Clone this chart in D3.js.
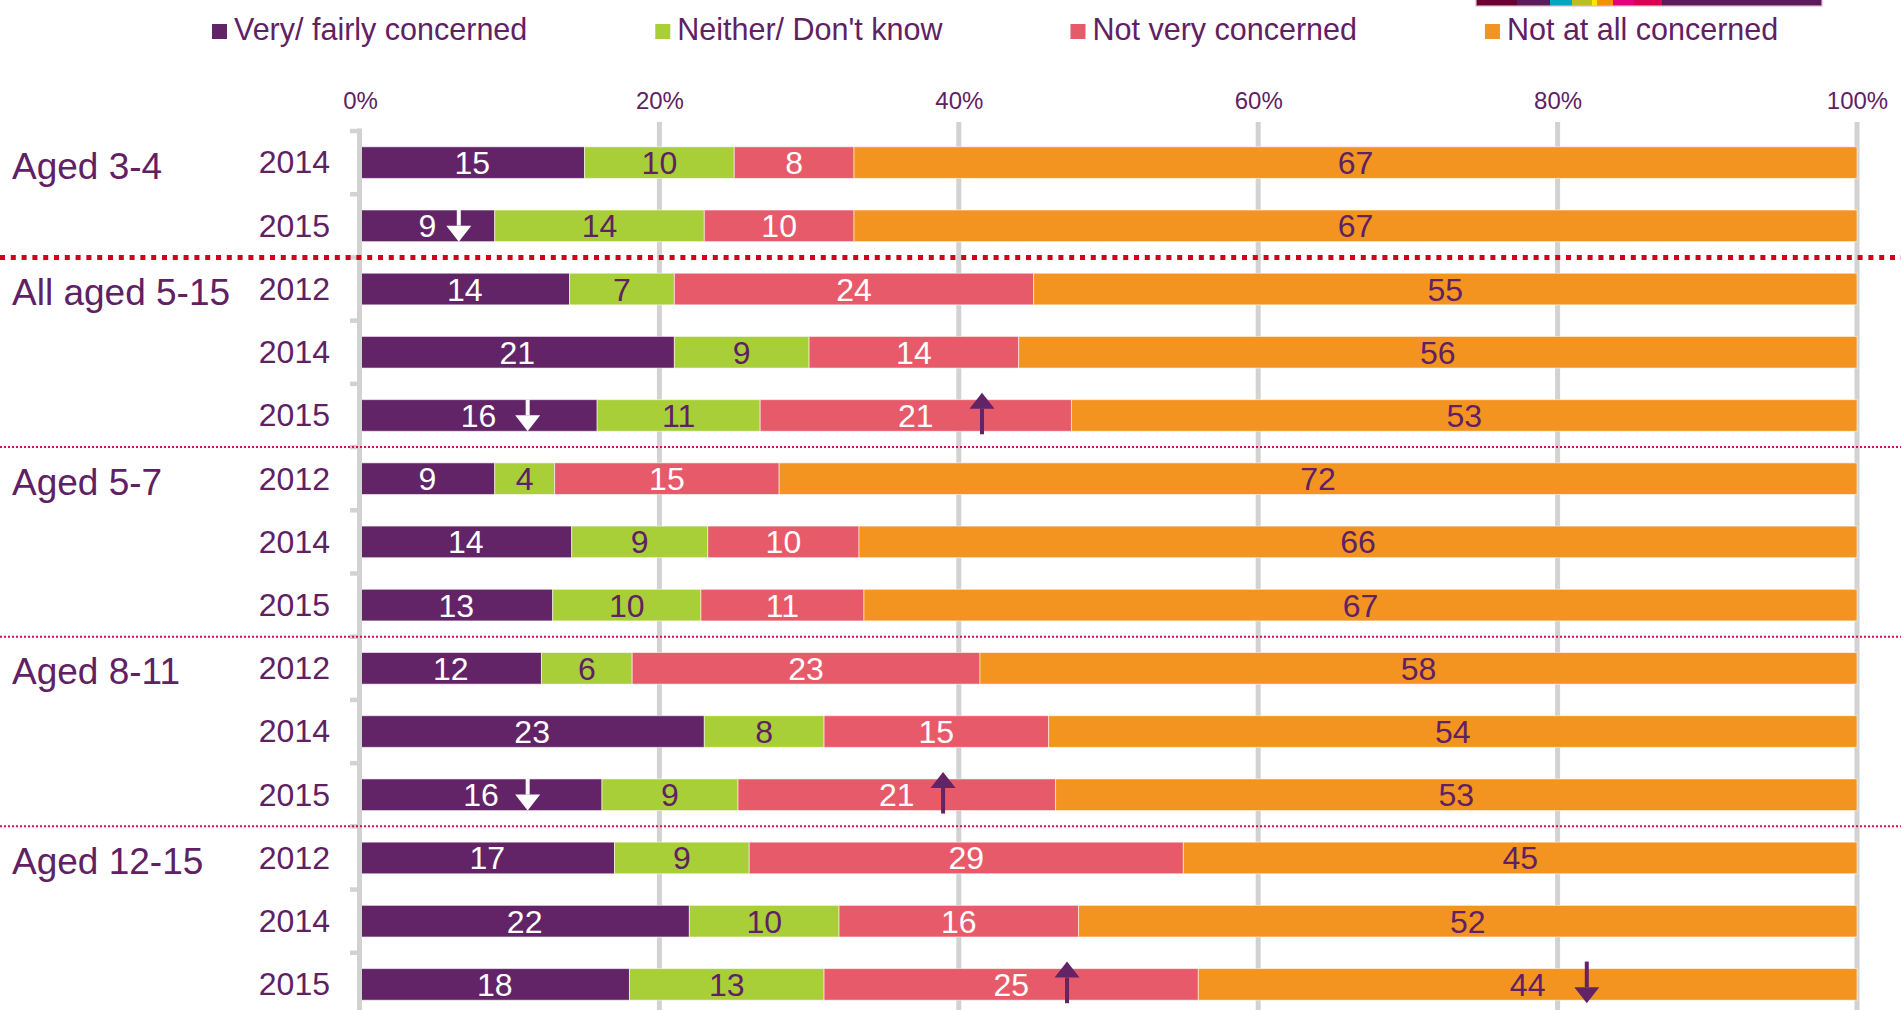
<!DOCTYPE html>
<html>
<head>
<meta charset="utf-8">
<script src="https://cdn.jsdelivr.net/npm/d3@7"></script>
<style>
  html, body { margin: 0; padding: 0; background: #ffffff; }
  svg { display: block; }
  text { font-family: "Liberation Sans", Arial, sans-serif; }
</style>
</head>
<body>
<svg id="chart" width="1901" height="1010"></svg>
<script>
// ---------- data ----------
const groupNames = ["Aged 3-4", "All aged 5-15", "Aged 5-7", "Aged 8-11", "Aged 12-15"];
const rowGroup   = [0, 0, 1, 1, 1, 2, 2, 2, 3, 3, 3, 4, 4, 4];
const rowYear    = ["2014", "2015", "2012", "2014", "2015", "2012", "2014", "2015", "2012", "2014", "2015", "2012", "2014", "2015"];

const seriesNames = ["Very/ fairly concerned", "Neither/ Don't know", "Not very concerned", "Not at all concerned"];
const veryFairly  = [15,  9, 14, 21, 16,  9, 14, 13, 12, 23, 16, 17, 22, 18];
const neither     = [10, 14,  7,  9, 11,  4,  9, 10,  6,  8,  9,  9, 10, 13];
const notVery     = [ 8, 10, 24, 14, 21, 15, 10, 11, 23, 15, 21, 29, 16, 25];
const notAtAll    = [67, 67, 55, 56, 53, 72, 66, 67, 58, 54, 53, 45, 52, 44];

const xTickValues = [0, 0.2, 0.4, 0.6, 0.8, 1];

// significance arrows: row index, series index, direction, position along the axis (share)
const arrowRows   = [1, 4, 4, 10, 10, 13, 13];
const arrowSeries = [0, 0, 2, 0, 2, 2, 3];
const arrowDir    = ["down", "down", "up", "down", "up", "up", "down"];
const arrowAt     = [0.066, 0.112, 0.4155, 0.112, 0.3895, 0.4723, 0.8195];

// ---------- styles ----------
const seriesColors = ["#622466", "#A8CF38", "#E75A69", "#F49420"];
const labelColors  = ["#ffffff", "#5F2163", "#ffffff", "#5F2163"];
const textColor = "#5F2163";
const gridColor = "#D2D2D2";

const svg = d3.select("#chart");
const W = 1901, H = 1010;

// table
const keys = ["s0", "s1", "s2", "s3"];
const table = rowYear.map((yr, i) => ({
  id: i, s0: veryFairly[i], s1: neither[i], s2: notVery[i], s3: notAtAll[i]
}));
const seriesVals = [veryFairly, neither, notVery, notAtAll];

const stacked = d3.stack().keys(keys).offset(d3.stackOffsetExpand)(table);

const x = d3.scaleLinear().domain([0, 1]).range([360, 1857]);
const y = d3.scaleBand().domain(d3.range(rowYear.length))
  .range([131, 1016]).paddingInner(0.5).paddingOuter(0.25);
const bw = y.bandwidth();
const halfGap = y.step() * y.paddingInner() / 2;
const topBoundary = i => y(i) - halfGap;

// ---------- decoration bar (top right) ----------
const decoColors = ["#6B0033", "#5C1A5E", "#00A5C0", "#B9C01C", "#FFE500", "#F39200", "#E6007E", "#DC0050", "#5C1A5E"];
const decoWidths = [41, 33, 22, 20, 5, 16, 21, 28, 160];
let dx = 1476;
const deco = svg.append("g");
decoColors.forEach((c, i) => {
  deco.append("rect").attr("x", dx).attr("y", 0).attr("width", decoWidths[i]).attr("height", 6).attr("fill", c);
  dx += decoWidths[i];
});
deco.append("rect").attr("x", 1476).attr("y", -1).attr("width", dx - 1476).attr("height", 7)
  .attr("fill", "none").attr("stroke", "#D9BCCD").attr("stroke-width", 1.2);

// ---------- legend ----------
const legend = svg.append("g");
let lx = 212;
seriesNames.forEach((name, i) => {
  legend.append("rect").attr("x", lx).attr("y", 24).attr("width", 15).attr("height", 15).attr("fill", seriesColors[i]);
  const t = legend.append("text").attr("x", lx + 22).attr("y", 40)
    .attr("font-size", 30.5).attr("fill", textColor).text(name);
  lx = lx + 22 + t.node().getComputedTextLength() + 128;
});

// ---------- gridlines ----------
svg.append("g").selectAll("line").data(xTickValues.slice(1)).join("line")
  .attr("x1", d => x(d)).attr("x2", d => x(d))
  .attr("y1", 122).attr("y2", H)
  .attr("stroke", gridColor).attr("stroke-width", 5);

// ---------- x axis (top) ----------
const xAxis = svg.append("g").attr("transform", "translate(0,109)")
  .call(d3.axisTop(x).tickValues(xTickValues).tickFormat(d3.format(".0%")).tickSize(0).tickPadding(0));
xAxis.select(".domain").remove();
xAxis.selectAll("text").attr("font-size", 24).attr("fill", textColor)
  .style("font-family", "'Liberation Sans', Arial, sans-serif");

// ---------- bars ----------
const barG = svg.append("g");
stacked.forEach((layer, si) => {
  barG.append("g").selectAll("rect").data(layer).join("rect")
    .attr("x", d => x(d[0]))
    .attr("y", d => y(d.data.id))
    .attr("width", d => x(d[1]) - x(d[0]))
    .attr("height", bw)
    .attr("fill", seriesColors[si])
    .attr("stroke", "rgba(255,255,255,0.55)").attr("stroke-width", 1);
});

// value labels
stacked.forEach((layer, si) => {
  barG.append("g").selectAll("text").data(layer).join("text")
    .attr("x", d => (x(d[0]) + x(d[1])) / 2)
    .attr("y", d => y(d.data.id) + bw / 2)
    .attr("dy", "0.36em")
    .attr("text-anchor", "middle")
    .attr("font-size", 32)
    .attr("fill", labelColors[si])
    .text(d => seriesVals[si][d.data.id]);
});

// ---------- y axis line + boundary ticks ----------
svg.append("line").attr("x1", 359.5).attr("x2", 359.5).attr("y1", 128.5).attr("y2", H)
  .attr("stroke", gridColor).attr("stroke-width", 5);
svg.append("g").selectAll("line").data(d3.range(rowYear.length)).join("line")
  .attr("x1", 350).attr("x2", 360)
  .attr("y1", d => topBoundary(d)).attr("y2", d => topBoundary(d))
  .attr("stroke", gridColor).attr("stroke-width", 4.5);

// year labels
const yAxis = svg.append("g").attr("transform", "translate(360,0)")
  .call(d3.axisLeft(y).tickSize(0).tickPadding(30).tickFormat(i => rowYear[i]));
yAxis.select(".domain").remove();
yAxis.selectAll("text").attr("font-size", 32).attr("fill", textColor).attr("dy", "0.34em")
  .style("font-family", "'Liberation Sans', Arial, sans-serif");

// group labels
const firstRows = groupNames.map((g, gi) => rowGroup.indexOf(gi));
svg.append("g").selectAll("text").data(groupNames).join("text")
  .attr("x", 12)
  .attr("y", (d, gi) => y(firstRows[gi]) + bw / 2 + 16)
  .attr("font-size", 37).attr("fill", textColor)
  .text(d => d);

// ---------- group separators ----------
const sepRows = firstRows.slice(1);
svg.append("g").selectAll("line").data(sepRows).join("line")
  .attr("x1", 0).attr("x2", W)
  .attr("y1", d => topBoundary(d)).attr("y2", d => topBoundary(d))
  .attr("stroke", (d, i) => i === 0 ? "#D0021B" : "#D0104C")
  .attr("stroke-width", (d, i) => i === 0 ? 5 : 2)
  .attr("stroke-dasharray", (d, i) => i === 0 ? "5,5.8" : "2,2");

// ---------- significance arrows ----------
const arrowG = svg.append("g");
arrowRows.forEach((r, k) => {
  const si = arrowSeries[k];
  const cx = x(arrowAt[k]);
  const top = y(r), bot = y(r) + bw;
  const col = si === 0 ? "#ffffff" : "#622466";
  let tail, tip;
  if (arrowDir[k] === "down") {
    if (si === 0) { tail = top; tip = bot; } else { tail = top - 7; tip = bot + 3; }
  } else {
    tip = top - 7; tail = bot + 3;
  }
  const dir = tip > tail ? 1 : -1;
  const headLen = 16, headW = 25;
  const headBase = tip - dir * headLen;
  arrowG.append("line").attr("x1", cx).attr("x2", cx).attr("y1", tail).attr("y2", headBase)
    .attr("stroke", col).attr("stroke-width", 4);
  arrowG.append("path")
    .attr("d", d3.line()([[cx - headW / 2, headBase], [cx + headW / 2, headBase], [cx, tip]]) + "Z")
    .attr("fill", col);
});
</script>
</body>
</html>
